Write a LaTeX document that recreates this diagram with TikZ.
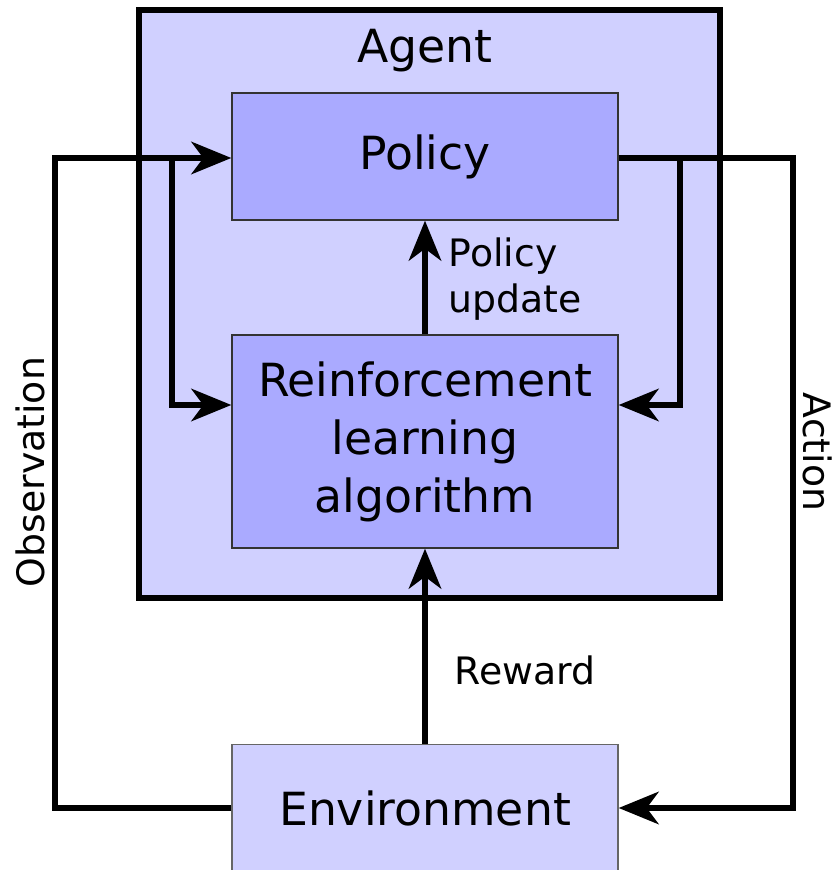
\documentclass[tikz,border=0pt]{standalone}
\usepackage{fontspec}
\setmainfont{DejaVu Sans}
\usetikzlibrary{positioning,calc,arrows.meta}

\definecolor{agentfill}{HTML}{D0D0FF}
\definecolor{innerfill}{HTML}{AAAAFF}

\begin{document}
\begin{tikzpicture}[
    agentbox/.style={rectangle, draw, line width=3pt, fill=agentfill, minimum width=11.62cm, minimum height=11.76cm},
    innerbox/.style={rectangle, draw=black!80, line width=0.8pt, fill=innerfill, minimum width=7.72cm, font=\fontsize{26}{33}\selectfont, align=center},
    envbox/.style={rectangle, draw=black!60, line width=0.8pt, fill=agentfill, minimum width=7.72cm, minimum height=2.54cm, font=\fontsize{26}{33}\selectfont},
    flow/.style={line width=3pt, -{Stealth[length=8mm, width=6.5mm, inset=2.4mm]}},
    lbl/.style={font=\fontsize{21.5}{26}\selectfont}
]
    \useasboundingbox (0,0) rectangle (16.76,17.4);

    % Agent
    \node[agentbox] (agent) at (8.59, 11.32) {};
    \node[font=\fontsize{26}{31}\selectfont] (agentlbl) at (8.5, 16.38) {Agent};
    \node[innerbox, minimum height=2.54cm] (policy) at (8.5, 14.27) {Policy};
    \node[innerbox, minimum height=4.26cm] (rl) at (8.5, 8.57) {Reinforcement\\learning\\algorithm};

    % Environment
    \node[envbox] (env) at (8.5, 1.24) {Environment};

    % Rails
    \coordinate (obsrail) at (1.1, 14.24);
    \coordinate (obsbranch) at (3.44, 14.24);
    \coordinate (actrail) at (15.86, 14.24);
    \coordinate (actbranch) at (13.6, 14.24);

    % Observation
    \draw[flow] (env.west) -| (obsrail) -- (policy.west |- obsrail);
    \draw[flow] (obsbranch) |- (rl.west |- 0, 9.3);
    \node[lbl, rotate=90] (obslbl) at (0.6, 7.96) {Observation};

    % Action
    \draw[flow] (policy.east |- actrail) -- (actrail) |- (env.east);
    \draw[flow] (actbranch) |- (rl.east |- 0, 9.3);
    \node[lbl, rotate=-90] (actlbl) at (16.36, 8.36) {Action};

    % Policy update and reward
    \draw[flow] (rl.north) -- (policy.south);
    \node[lbl, anchor=west, align=left] (updlbl) at (8.85, 11.82) {Policy\\update};
    \draw[flow] (env.north) -- (rl.south);
    \node[lbl] (rewlbl) at (10.5, 4.0) {Reward};
\end{tikzpicture}
\end{document}
